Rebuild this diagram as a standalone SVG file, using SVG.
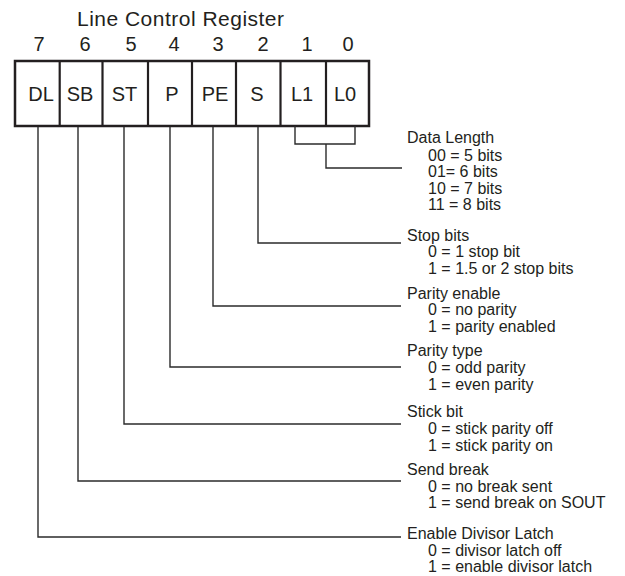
<svg xmlns="http://www.w3.org/2000/svg" width="625" height="576" viewBox="0 0 625 576">
  <style>
    text { font-family: "Liberation Sans", Arial, Helvetica, sans-serif; fill: #231f20; }
    .title { font-size: 21px; }
    .bitnum { font-size: 20px; text-anchor: middle; }
    .cell { font-size: 20px; text-anchor: middle; }
    .lbl { font-size: 16px; }
    .reg { fill: #ffffff; stroke: #231f20; stroke-width: 2.5; }
    .div { stroke: #231f20; stroke-width: 2.2; }
    .conn { fill: none; stroke: #2b2b2b; stroke-width: 1.4; }
  </style>
  <rect width="625" height="576" fill="#ffffff"/>

  <g id="register">
    <text class="title" x="77" y="26" textLength="207" lengthAdjust="spacing">Line Control Register</text>
    <g id="bit-numbers">
      <text class="bitnum" x="39" y="50.5">7</text>
      <text class="bitnum" x="85" y="50.5">6</text>
      <text class="bitnum" x="131" y="50.5">5</text>
      <text class="bitnum" x="174" y="50.5">4</text>
      <text class="bitnum" x="218" y="50.5">3</text>
      <text class="bitnum" x="263" y="50.5">2</text>
      <text class="bitnum" x="307" y="50.5">1</text>
      <text class="bitnum" x="348" y="50.5">0</text>
    </g>
    <rect class="reg" x="15" y="61" width="354" height="65"/>
    <line class="div" x1="59.7" y1="61" x2="59.7" y2="126"/>
    <line class="div" x1="102.5" y1="61" x2="102.5" y2="126"/>
    <line class="div" x1="148" y1="61" x2="148" y2="126"/>
    <line class="div" x1="192" y1="61" x2="192" y2="126"/>
    <line class="div" x1="236" y1="61" x2="236" y2="126"/>
    <line class="div" x1="280.5" y1="61" x2="280.5" y2="126"/>
    <line class="div" x1="326" y1="61" x2="326" y2="126"/>
    <g id="cell-DL"><text class="cell" x="41" y="100.5">DL</text></g>
    <g id="cell-SB"><text class="cell" x="80" y="100.5">SB</text></g>
    <g id="cell-ST"><text class="cell" x="124.5" y="100.5">ST</text></g>
    <g id="cell-P"><text class="cell" x="172" y="100.5">P</text></g>
    <g id="cell-PE"><text class="cell" x="215" y="100.5">PE</text></g>
    <g id="cell-S"><text class="cell" x="257" y="100.5">S</text></g>
    <g id="cell-L1"><text class="cell" x="302" y="100.5">L1</text></g>
    <g id="cell-L0"><text class="cell" x="345" y="100.5">L0</text></g>
  </g>

  <g id="connectors">
    <path class="conn" d="M295,126 V144 H355 V126"/>
    <path class="conn" d="M326,144 V168 H402"/>
    <path class="conn" d="M258,127 V243 H401"/>
    <path class="conn" d="M213,127 V306 H401"/>
    <path class="conn" d="M170,127 V367 H401"/>
    <path class="conn" d="M124,127 V424 H401"/>
    <path class="conn" d="M78,127 V481 H401"/>
    <path class="conn" d="M38,127 V537 H401"/>
  </g>

  <g id="data-length">
    <text class="lbl" x="407" y="143">Data Length</text>
    <text class="lbl" x="428" y="160.5">00 = 5 bits</text>
    <text class="lbl" x="428" y="177">01= 6 bits</text>
    <text class="lbl" x="428" y="193.5">10 = 7 bits</text>
    <text class="lbl" x="428" y="210">11 = 8 bits</text>
  </g>
  <g id="stop-bits">
    <text class="lbl" x="407" y="241">Stop bits</text>
    <text class="lbl" x="428" y="257">0 = 1 stop bit</text>
    <text class="lbl" x="428" y="273.5">1 = 1.5 or 2 stop bits</text>
  </g>
  <g id="parity-enable">
    <text class="lbl" x="407" y="299">Parity enable</text>
    <text class="lbl" x="428" y="315">0 = no parity</text>
    <text class="lbl" x="428" y="331.5">1 = parity enabled</text>
  </g>
  <g id="parity-type">
    <text class="lbl" x="407" y="356">Parity type</text>
    <text class="lbl" x="428" y="373">0 = odd parity</text>
    <text class="lbl" x="428" y="390">1 = even parity</text>
  </g>
  <g id="stick-bit">
    <text class="lbl" x="407" y="417">Stick bit</text>
    <text class="lbl" x="428" y="434">0 = stick parity off</text>
    <text class="lbl" x="428" y="450.5">1 = stick parity on</text>
  </g>
  <g id="send-break">
    <text class="lbl" x="407" y="475">Send break</text>
    <text class="lbl" x="428" y="491.5">0 = no break sent</text>
    <text class="lbl" x="428" y="508">1 = send break on SOUT</text>
  </g>
  <g id="divisor-latch">
    <text class="lbl" x="407" y="539">Enable Divisor Latch</text>
    <text class="lbl" x="428" y="555.5">0 = divisor latch off</text>
    <text class="lbl" x="428" y="572">1 = enable divisor latch</text>
  </g>
</svg>
